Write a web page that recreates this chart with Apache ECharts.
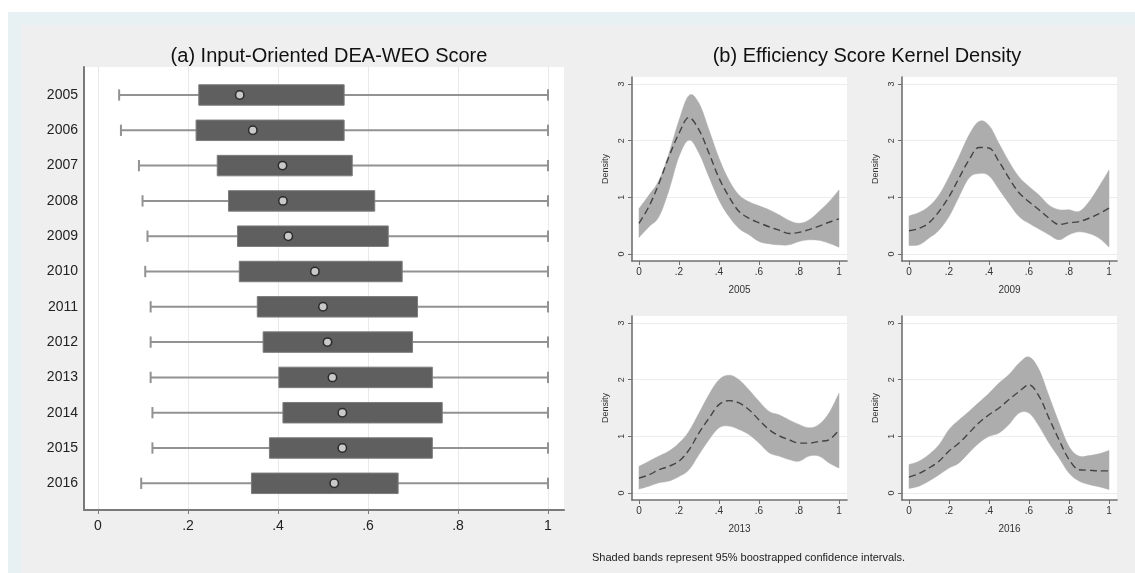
<!DOCTYPE html>
<html>
<head>
<meta charset="utf-8">
<script src="https://cdn.jsdelivr.net/npm/echarts@6/dist/echarts.min.js"></script>
<style>
html,body{margin:0;padding:0;background:#fff;}
#c{width:1135px;height:573px;}
</style>
</head>
<body>
<div id="c"></div>
<script>
// ---------- Panel (a): box plot data ----------
const years = ['2005','2006','2007','2008','2009','2010','2011','2012','2013','2014','2015','2016'];
const boxLow  = [0.047,0.051,0.091,0.099,0.110,0.105,0.117,0.117,0.117,0.121,0.121,0.096];
const boxQ1   = [0.224,0.218,0.265,0.290,0.310,0.314,0.354,0.367,0.402,0.411,0.381,0.341];
const boxQ3   = [0.547,0.547,0.565,0.615,0.645,0.676,0.710,0.699,0.743,0.765,0.743,0.667];
const boxHigh = [1,1,1,1,1,1,1,1,1,1,1,1];
const boxMean = [0.315,0.344,0.410,0.411,0.423,0.482,0.500,0.510,0.521,0.543,0.543,0.525];
const scoreTicks = [0,0.2,0.4,0.6,0.8,1];

// ---------- Panel (b): kernel densities ----------
const kx = [0,0.05,0.1,0.15,0.2,0.25,0.3,0.35,0.4,0.45,0.5,0.55,0.6,0.65,0.7,0.75,0.8,0.85,0.9,0.95,1];
const k2005Mean = [0.54,0.84,1.25,1.72,2.13,2.41,2.19,1.78,1.34,1.01,0.75,0.63,0.55,0.48,0.42,0.36,0.38,0.43,0.49,0.56,0.62];
const k2005Hi   = [0.80,1.04,1.30,1.78,2.36,2.80,2.66,2.19,1.69,1.30,1.04,0.92,0.85,0.78,0.69,0.59,0.54,0.60,0.75,0.92,1.13];
const k2005Lo   = [0.29,0.48,0.66,1.13,1.72,2.01,1.78,1.36,0.95,0.66,0.45,0.34,0.22,0.18,0.16,0.16,0.22,0.25,0.24,0.19,0.12];
const k2009Mean = [0.41,0.45,0.55,0.75,1.01,1.34,1.66,1.88,1.87,1.63,1.34,1.08,0.92,0.78,0.63,0.52,0.55,0.57,0.63,0.71,0.81];
const k2009Hi   = [0.67,0.73,0.84,1.04,1.36,1.72,2.10,2.34,2.27,1.95,1.63,1.36,1.19,1.04,0.86,0.78,0.78,0.75,0.92,1.19,1.48];
const k2009Lo   = [0.15,0.16,0.28,0.42,0.66,1.01,1.34,1.42,1.38,1.14,0.89,0.66,0.54,0.44,0.34,0.25,0.34,0.39,0.36,0.28,0.12];
const k2013Mean = [0.26,0.32,0.41,0.47,0.56,0.76,1.06,1.32,1.56,1.63,1.59,1.47,1.29,1.12,1.01,0.94,0.88,0.88,0.91,0.94,1.11];
const k2013Hi   = [0.47,0.56,0.65,0.74,0.88,1.09,1.41,1.74,2.00,2.08,2.00,1.82,1.62,1.44,1.38,1.29,1.21,1.15,1.21,1.41,1.76];
const k2013Lo   = [0.07,0.12,0.18,0.21,0.29,0.41,0.68,0.94,1.15,1.18,1.12,1.03,0.88,0.71,0.65,0.59,0.56,0.65,0.65,0.53,0.44];
const k2016Mean = [0.28,0.34,0.44,0.56,0.74,0.88,1.06,1.24,1.38,1.50,1.65,1.79,1.91,1.71,1.32,0.94,0.59,0.41,0.40,0.39,0.39];
const k2016Hi   = [0.50,0.56,0.68,0.85,1.12,1.29,1.44,1.60,1.76,1.94,2.09,2.29,2.40,2.18,1.71,1.24,0.82,0.65,0.66,0.69,0.75];
const k2016Lo   = [0.08,0.12,0.21,0.32,0.44,0.53,0.71,0.88,1.00,1.06,1.21,1.41,1.41,1.18,0.88,0.62,0.35,0.21,0.15,0.11,0.06];
const densityTicks = [0,1,2,3];

const panels = [
  {name:'2005', mean:k2005Mean, hi:k2005Hi, lo:k2005Lo},
  {name:'2009', mean:k2009Mean, hi:k2009Hi, lo:k2009Lo},
  {name:'2013', mean:k2013Mean, hi:k2013Hi, lo:k2013Lo},
  {name:'2016', mean:k2016Mean, hi:k2016Hi, lo:k2016Lo}
];
const panelPos = [
  {left:632, top:77}, {left:902, top:77}, {left:632, top:316}, {left:902, top:316}
];

const FONT = 'Liberation Sans, Arial, Helvetica, sans-serif';
const fmtScore = v => (v === 0 ? '0' : v === 1 ? '1' : String(v).replace(/^0/, ''));

const chart = echarts.init(document.getElementById('c'), null, {renderer:'canvas'});

const grids = [{left:84, top:67, width:480, height:443, show:true, backgroundColor:'#ffffff', borderWidth:0, containLabel:false}];
const xAxes = [{
  gridIndex:0, type:'value', min:-0.0311, max:1.0356,
  axisLine:{show:true, onZero:false, lineStyle:{color:'#7a7a7a', width:2}},
  axisTick:{show:true, length:4, customValues:scoreTicks, lineStyle:{color:'#7a7a7a'}},
  axisLabel:{customValues:scoreTicks, formatter:fmtScore, color:'#222', fontFamily:FONT, fontSize:14, margin:9},
  splitLine:{show:true, lineStyle:{color:'#e9e9e9', width:1}}
}];
const yAxes = [{
  gridIndex:0, type:'value', inverse:true, min:-0.793, max:11.756,
  axisLine:{show:true, onZero:false, lineStyle:{color:'#7a7a7a', width:2}},
  axisTick:{show:false, customValues:years.map((y,i)=>i)},
  axisLabel:{customValues:years.map((y,i)=>i), formatter:v => years[v], color:'#222', fontFamily:FONT, fontSize:14, margin:6},
  splitLine:{show:false}
}];

const series = [{
  type:'custom', xAxisIndex:0, yAxisIndex:0,
  data: years.map((y,i)=>[i, boxLow[i], boxQ1[i], boxQ3[i], boxHigh[i], boxMean[i]]),
  encode:{y:0, x:[1,2,3,4,5]},
  renderItem:function(params, api){
    const r = api.value(0);
    const pl = api.coord([api.value(1), r]);
    const p1 = api.coord([api.value(2), r]);
    const p3 = api.coord([api.value(3), r]);
    const ph = api.coord([api.value(4), r]);
    const pm = api.coord([api.value(5), r]);
    const rowH = api.size([0,1])[1];
    const bh = rowH * 0.58;
    const ch = rowH * 0.32;
    const wStyle = {stroke:'#929292', lineWidth:2};
    return {type:'group', children:[
      {type:'line', shape:{x1:pl[0], y1:pl[1], x2:ph[0], y2:ph[1]}, style:wStyle},
      {type:'line', shape:{x1:pl[0], y1:pl[1]-ch/2, x2:pl[0], y2:pl[1]+ch/2}, style:wStyle},
      {type:'line', shape:{x1:ph[0], y1:ph[1]-ch/2, x2:ph[0], y2:ph[1]+ch/2}, style:wStyle},
      {type:'rect', shape:{x:p1[0], y:p1[1]-bh/2, width:p3[0]-p1[0], height:bh}, style:{fill:'#5f5f5f', stroke:'#7c7c7c', lineWidth:1}},
      {type:'circle', shape:{cx:pm[0], cy:pm[1], r:4.2}, style:{fill:'#c9c9c9', stroke:'#2b2b2b', lineWidth:1.5}}
    ]};
  },
  silent:true, animation:false, z:3
}];

// smooth cubic path through points (Catmull-Rom style control points)
function smoothSeg(pts, moveFirst){
  let d = (moveFirst ? 'M' : 'L') + pts[0][0] + ' ' + pts[0][1];
  const t = 0.18;
  for (let i = 0; i < pts.length - 1; i++) {
    const p0 = pts[Math.max(i-1,0)], p1 = pts[i], p2 = pts[i+1], p3 = pts[Math.min(i+2, pts.length-1)];
    const c1x = p1[0] + (p2[0]-p0[0]) * t, c1y = p1[1] + (p2[1]-p0[1]) * t;
    const c2x = p2[0] - (p3[0]-p1[0]) * t, c2y = p2[1] - (p3[1]-p1[1]) * t;
    d += 'C' + c1x + ' ' + c1y + ' ' + c2x + ' ' + c2y + ' ' + p2[0] + ' ' + p2[1];
  }
  return d;
}
// band renderer: one closed shape built from all items (upper edge, then lower edge reversed)
function bandRender(params, api){
  if (params.dataIndexInside !== 0) return null;
  const n = params.dataInsideLength;
  const upper = [], lower = [];
  for (let i = 0; i < n; i++) {
    const x = api.value(0, i);
    upper.push(api.coord([x, api.value(2, i)]));
    lower.push(api.coord([x, api.value(1, i)]));
  }
  const d = smoothSeg(upper, true) + smoothSeg(lower.slice().reverse(), false) + 'Z';
  return {type:'path', shape:{pathData:d}, style:{fill:'#adadad', stroke:'#adadad', lineWidth:0.5}};
}

panels.forEach((p, k) => {
  const gi = k + 1;
  grids.push({left:panelPos[k].left, top:panelPos[k].top, width:215, height:184, show:true, backgroundColor:'#ffffff', borderWidth:0});
  xAxes.push({
    gridIndex:gi, type:'value', min:-0.035, max:1.04,
    name:p.name, nameLocation:'middle', nameGap:24,
    nameTextStyle:{color:'#333', fontFamily:FONT, fontSize:10},
    axisLine:{show:true, onZero:false, lineStyle:{color:'#707070', width:1.6}},
    axisTick:{show:true, length:4, customValues:scoreTicks, lineStyle:{color:'#707070'}},
    axisLabel:{customValues:scoreTicks, formatter:fmtScore, color:'#333', fontFamily:FONT, fontSize:10, margin:6},
    splitLine:{show:false}
  });
  yAxes.push({
    gridIndex:gi, type:'value', min:-0.125, max:3.125,
    name:'Density', nameLocation:'middle', nameGap:22, nameRotate:90,
    nameTextStyle:{color:'#333', fontFamily:FONT, fontSize:9},
    axisLine:{show:true, onZero:false, lineStyle:{color:'#707070', width:1.6}},
    axisTick:{show:true, length:4, customValues:densityTicks, lineStyle:{color:'#707070'}},
    axisLabel:{customValues:densityTicks, rotate:90, color:'#333', fontFamily:FONT, fontSize:9, margin:6},
    splitLine:{show:true, lineStyle:{color:'#ececec', width:1}}
  });
  series.push({
    type:'custom', xAxisIndex:gi, yAxisIndex:gi,
    data: kx.map((x,i)=>[x, p.lo[i], p.hi[i]]),
    encode:{x:0, y:[1,2]},
    renderItem: bandRender, silent:true, animation:false, z:2, clip:true
  });
  series.push({
    type:'line', xAxisIndex:gi, yAxisIndex:gi, data:kx.map((x,i)=>[x, p.mean[i]]),
    smooth:0.35, symbol:'none', lineStyle:{color:'#444', width:1.4, type:[7,4]},
    silent:true, animation:false, z:4
  });
});

chart.setOption({
  animation:false,
  backgroundColor:'#ffffff',
  textStyle:{fontFamily:FONT},
  graphic:[
    {type:'rect', shape:{x:8, y:12, width:1127, height:561}, style:{fill:'#e7f0f2'}, z:-10, silent:true},
    {type:'rect', shape:{x:21, y:25, width:1114, height:548}, style:{fill:'#efefef'}, z:-9, silent:true}
  ],
  title:[
    {text:'(a) Input-Oriented DEA-WEO Score', left:324, top:41, textAlign:'center',
     textStyle:{fontFamily:FONT, fontSize:20, fontWeight:'normal', color:'#111'}},
    {text:'(b) Efficiency Score Kernel Density', left:862, top:41, textAlign:'center',
     textStyle:{fontFamily:FONT, fontSize:20, fontWeight:'normal', color:'#111'}},
    {text:'Shaded bands represent 95% boostrapped confidence intervals.', left:587, top:547,
     textStyle:{fontFamily:FONT, fontSize:11, fontWeight:'normal', color:'#222'}}
  ],
  grid:grids, xAxis:xAxes, yAxis:yAxes, series:series
});
</script>
</body>
</html>
